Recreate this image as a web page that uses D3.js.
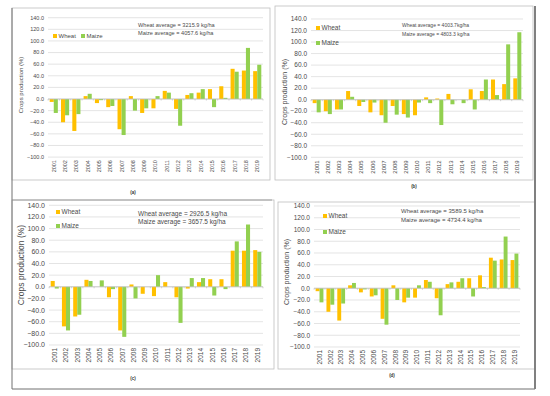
<!DOCTYPE html>
<html>
<head>
<meta charset="utf-8">
<script src="https://cdn.jsdelivr.net/npm/d3@7"></script>
<style>
body { margin: 0; background: #fff; }
text { font-family: "Liberation Sans", Arial, sans-serif; fill: #4a4a4a; }
</style>
</head>
<body>
<div id="fig"></div>
<script>
var years = ["2001","2002","2003","2004","2005","2006","2007","2008","2009","2010",
             "2011","2012","2013","2014","2015","2016","2017","2018","2019"];
var yTicks = [140,120,100,80,60,40,20,0,-20,-40,-60,-80,-100];

var wheatA = [-5,-40,-55,5,-7,-14,-52,5,-24,-16,14,-17,7,11,17,22,52,49,48];
var maizeA = [-24,-28,-26,9,-2,-12,-62,-20,-16,5,11,-46,10,17,-14,2,47,88,59];

var wheatB = [-6,-20,-17,15,-11,-22,-27,-11,-25,-27,4,2,10,0,18,15,35,27,37];
var maizeB = [-22,-25,-17,5,-4,-5,-40,-26,-31,-5,-6,-44,-8,-6,-17,35,8,96,117];

var wheatC = [10,-68,-51,12,0,-18,-75,4,-12,-16,8,-18,-3,8,13,13,62,62,63];
var maizeC = [-3,-75,-48,10,11,-4,-86,-20,0,20,0,-62,15,15,-15,-4,78,107,60];

var wheatD = [-5,-40,-55,5,-7,-14,-52,5,-24,-16,14,-17,7,11,17,22,52,49,48];
var maizeD = [-24,-28,-26,9,-2,-12,-62,-20,-16,5,11,-46,10,17,-14,2,47,88,59];

var svg = d3.select("#fig").append("svg")
	.attr("width", 550)
	.attr("height", 396);

// frames of the figure table
var frames = svg.append("g").attr("fill", "none");
frames.append("rect").attr("x", 12).attr("y", 8).attr("width", 258).attr("height", 172).attr("stroke", "#bfbfbf").attr("stroke-width", 0.8);
frames.append("rect").attr("x", 275).attr("y", 6).attr("width", 258).attr("height", 174).attr("stroke", "#bfbfbf").attr("stroke-width", 0.8);
frames.append("rect").attr("x", 12).attr("y", 200).attr("width", 262).attr("height", 169).attr("stroke", "#bfbfbf").attr("stroke-width", 0.8);
frames.append("rect").attr("x", 278).attr("y", 202).attr("width", 257).attr("height", 167).attr("stroke", "#bfbfbf").attr("stroke-width", 0.8);
frames.append("path").attr("d", "M12,8 V389 H535").attr("stroke", "#707070").attr("stroke-width", 1);
frames.append("path").attr("d", "M535,6 V389").attr("stroke", "#808080").attr("stroke-width", 2);
frames.append("path").attr("d", "M12,200 H272").attr("stroke", "#909090").attr("stroke-width", 0.8);

var panels = [
	{cap:"(a)", wheat:wheatA, maize:maizeA,
	 avg:["Wheat average = 3215.9 kg/ha","Maize average = 4057.6 kg/ha"],
	 x0:48, x1:263, yTop:17.7, yBot:157.1, tickFs:5.5, yearFs:5.5, titleFs:6, legFs:6, avgFs:5.6,
	 titleX:21, titleY:85, leg:[[55,36],[83,36]], avgX:138, avgY:[27,35], capX:133, capY:194},
	{cap:"(b)", wheat:wheatB, maize:maizeB,
	 avg:["Wheat average = 4003.7kg/ha","Maize average = 4803.3 kg/ha"],
	 x0:311, x1:523, yTop:19, yBot:157.3, tickFs:6.5, yearFs:6, titleFs:7, legFs:6.5, avgFs:5,
	 titleX:285, titleY:92, leg:[[318,28],[318,43]], avgX:402, avgY:[27,36], capX:414, capY:188},
	{cap:"(c)", wheat:wheatC, maize:maizeC,
	 avg:["Wheat average = 2926.5 kg/ha","Maize average = 3657.5 kg/ha"],
	 x0:49, x1:263, yTop:205.3, yBot:345, tickFs:7, yearFs:6.5, titleFs:8.5, legFs:6.5, avgFs:6.5,
	 titleX:21, titleY:265, leg:[[58,212],[58,226]], avgX:138, avgY:[216,224], capX:133, capY:380},
	{cap:"(d)", wheat:wheatD, maize:maizeD,
	 avg:["Wheat average = 3589.5 kg/ha","Maize average = 4734.4 kg/ha"],
	 x0:314, x1:520, yTop:206, yBot:347, tickFs:6.5, yearFs:6.5, titleFs:7, legFs:6.5, avgFs:6,
	 titleX:287, titleY:272, leg:[[325,216],[325,232]], avgX:401, avgY:[213,222], capX:392, capY:377}
];

panels.forEach(function(p){ drawPanel(p); });

function drawPanel(p){
	var g = svg.append("g");

	var x = d3.scaleBand()
		.domain(years)
		.range([p.x0, p.x1])
		.paddingInner(0.28)
		.paddingOuter(0.15);
	var xs = d3.scaleBand()
		.domain(["wheat","maize"])
		.range([0, x.bandwidth()]);
	var y = d3.scaleLinear()
		.domain([-100, 140])
		.range([p.yBot, p.yTop]);

	// gridlines
	g.selectAll(".grid")
		.data(yTicks)
		.enter()
		.append("line")
		.attr("x1", p.x0)
		.attr("x2", p.x1)
		.attr("y1", function(d){ return y(d); })
		.attr("y2", function(d){ return y(d); })
		.attr("stroke", "#d9d9d9")
		.attr("stroke-width", 0.7);

	// y tick labels
	g.selectAll(".ytl")
		.data(yTicks)
		.enter()
		.append("text")
		.attr("x", p.x0 - 4)
		.attr("y", function(d){ return y(d); })
		.attr("dy", "0.35em")
		.attr("text-anchor", "end")
		.style("font-size", p.tickFs + "px")
		.text(function(d){ return d3.format(".1f")(d); });

	// bars
	var series = [["wheat", p.wheat, "#ffc000"], ["maize", p.maize, "#92d050"]];
	series.forEach(function(s){
		g.selectAll(".bar-" + s[0])
			.data(s[1])
			.enter()
			.append("rect")
			.attr("x", function(d, i){ return x(years[i]) + xs(s[0]); })
			.attr("width", xs.bandwidth())
			.attr("y", function(d){ return y(Math.max(0, d)); })
			.attr("height", function(d){ return Math.abs(y(d) - y(0)); })
			.attr("fill", s[2]);
	});

	// x axis line at zero with tick marks
	g.append("line")
		.attr("x1", p.x0).attr("x2", p.x1)
		.attr("y1", y(0)).attr("y2", y(0))
		.attr("stroke", "#bfbfbf").attr("stroke-width", 0.7);
	var bounds = years.map(function(yr){ return x(yr) - x.step() * x.paddingInner() / 2; });
	bounds.push(p.x1);
	g.selectAll(".xt")
		.data(bounds)
		.enter()
		.append("line")
		.attr("x1", function(d){ return d; })
		.attr("x2", function(d){ return d; })
		.attr("y1", y(0))
		.attr("y2", y(0) + 1.5)
		.attr("stroke", "#bfbfbf")
		.attr("stroke-width", 0.7);

	// year labels
	g.selectAll(".yr")
		.data(years)
		.enter()
		.append("text")
		.attr("transform", function(d){
			return "translate(" + (x(d) + x.bandwidth() / 2) + "," + (p.yBot + 3) + ") rotate(-90)";
		})
		.attr("dy", "0.35em")
		.attr("text-anchor", "end")
		.style("font-size", p.yearFs + "px")
		.text(function(d){ return d; });

	// y title
	g.append("text")
		.attr("transform", "translate(" + p.titleX + "," + p.titleY + ") rotate(-90)")
		.attr("text-anchor", "middle")
		.attr("dy", "0.35em")
		.style("font-size", p.titleFs + "px")
		.text("Crops production (%)");

	// legend
	var names = ["Wheat", "Maize"];
	var cols = ["#ffc000", "#92d050"];
	for(var i = 0; i < 2; i++){
		g.append("rect")
			.attr("x", p.leg[i][0] - 2).attr("y", p.leg[i][1] - 2)
			.attr("width", 4).attr("height", 4)
			.attr("fill", cols[i]);
		g.append("text")
			.attr("x", p.leg[i][0] + 3.5)
			.attr("y", p.leg[i][1])
			.attr("dy", "0.35em")
			.style("font-size", p.legFs + "px")
			.text(names[i]);
	}

	// averages
	for(var j = 0; j < 2; j++){
		g.append("text")
			.attr("x", p.avgX)
			.attr("y", p.avgY[j])
			.style("font-size", p.avgFs + "px")
			.text(p.avg[j]);
	}

	// caption
	g.append("text")
		.attr("x", p.capX)
		.attr("y", p.capY)
		.attr("text-anchor", "middle")
		.style("font-size", "4.5px")
		.style("font-weight", "bold")
		.style("fill", "#333")
		.text(p.cap);
}
</script>
</body>
</html>
